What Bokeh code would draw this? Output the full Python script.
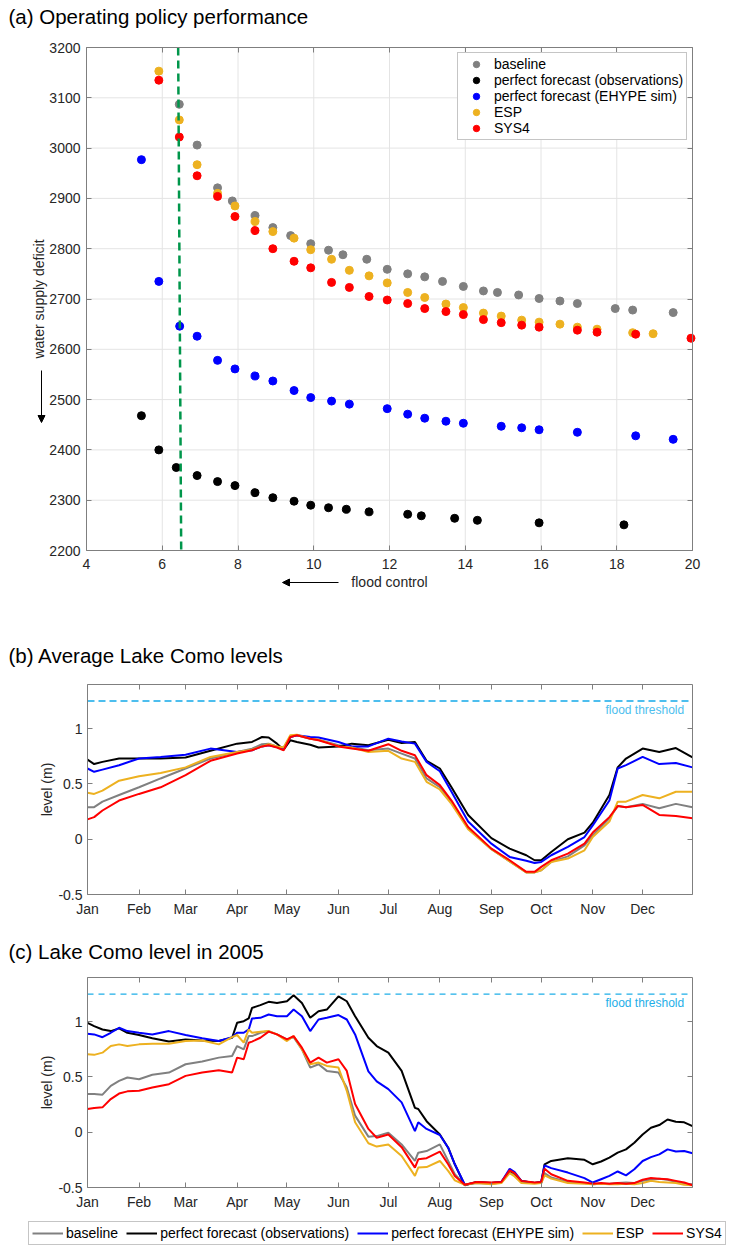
import math
from bokeh.plotting import figure
from bokeh.layouts import column
from bokeh.models import (FixedTicker, LinearAxis, Range1d, Label, Legend, LegendItem,
                          Arrow, NormalHead)
from bokeh.embed import file_html
from bokeh.resources import INLINE

FONT = "Liberation Sans"
TXT = "#262626"
AXC = "#7f7f7f"
W = 732

# ---------------- Panel (a) data ----------------
x_ticks_a = [4, 6, 8, 10, 12, 14, 16, 18, 20]
y_ticks_a = [2200, 2300, 2400, 2500, 2600, 2700, 2800, 2900, 3000, 3100, 3200]

base_x = [6.45, 6.92, 7.46, 7.85, 8.45, 8.92, 9.39, 9.92, 10.39, 10.77, 11.4, 11.94, 12.48,
          12.93, 13.4, 13.95, 14.48, 14.85, 15.41, 15.95, 16.5, 16.96, 17.96, 18.42, 19.49]
base_y = [3087, 3006, 2921, 2895, 2866, 2842, 2826, 2810, 2797, 2788, 2779, 2759, 2750,
          2744, 2735, 2725, 2716, 2713, 2708, 2701, 2696, 2691, 2681, 2678, 2673]

obs_x = [5.45, 5.91, 6.37, 6.92, 7.46, 7.92, 8.45, 8.92, 9.48, 9.92, 10.39, 10.86, 11.46,
         12.48, 12.84, 13.72, 14.32, 15.95, 18.19]
obs_y = [2468, 2400, 2365, 2349, 2337, 2329, 2315, 2305, 2298, 2290, 2285, 2282, 2277,
         2272, 2269, 2264, 2260, 2255, 2251]

ehype_x = [5.45, 5.91, 6.46, 6.92, 7.46, 7.92, 8.45, 8.92, 9.48, 9.92, 10.47, 10.94, 11.94,
           12.48, 12.93, 13.49, 13.95, 14.95, 15.49, 15.95, 16.96, 18.5, 19.49]
ehype_y = [2977, 2735, 2646, 2626, 2578, 2561, 2547, 2537, 2518, 2504, 2497, 2491, 2482,
           2471, 2463, 2457, 2453, 2447, 2444, 2440, 2435, 2428, 2421]

esp_x = [5.91, 6.45, 6.92, 7.46, 7.92, 8.45, 8.92, 9.48, 9.92, 10.47, 10.94, 11.46, 11.94,
         12.48, 12.93, 13.49, 13.95, 14.48, 14.95, 15.49, 15.95, 16.5, 16.96, 17.48, 18.42, 18.96]
esp_y = [3153, 3056, 2967, 2910, 2885, 2854, 2834, 2821, 2798, 2779, 2757, 2746, 2732,
         2713, 2703, 2690, 2683, 2672, 2666, 2658, 2654, 2650, 2644, 2640, 2633, 2631]

sys4_x = [5.91, 6.45, 6.92, 7.46, 7.92, 8.45, 8.92, 9.48, 9.92, 10.47, 10.94, 11.46, 11.94,
          12.48, 12.93, 13.49, 13.95, 14.48, 14.95, 15.49, 15.95, 16.96, 17.48, 18.5, 19.96]
sys4_y = [3135, 3022, 2945, 2904, 2864, 2836, 2800, 2775, 2762, 2733, 2723, 2705, 2698,
          2691, 2681, 2675, 2669, 2659, 2653, 2648, 2644, 2638, 2634, 2630, 2622]

policy_x = [6.42, 6.50]
policy_y = [3200, 2200]

# ---------------- Panels (b), (c) data ----------------
month_ticks = [1, 32, 60, 91, 121, 152, 182, 213, 244, 274, 305, 335]
month_labels = ["Jan", "Feb", "Mar", "Apr", "May", "Jun", "Jul", "Aug", "Sep", "Oct", "Nov", "Dec"]
year_days = [1, 365]
level_ticks = [-0.5, 0, 0.5, 1]
level_labels = ["-0.5", "0", "0.5", "1"]
level_lims = [-0.5, 1.4]
FLOOD_THRESHOLD = 1.25

days_b = [1, 5, 10, 20, 32, 45, 60, 75, 91, 100, 106, 110, 115, 119, 123, 127, 135, 140, 152, 160,
          170, 182, 190, 198, 205, 213, 220, 230, 244, 255, 265, 270, 274, 280, 290, 300, 305, 315,
          320, 325, 335, 345, 355, 365]
obs_b = [0.72, 0.68, 0.70, 0.73, 0.73, 0.73, 0.74, 0.80, 0.865, 0.88, 0.925, 0.92, 0.865, 0.81,
         0.895, 0.88, 0.855, 0.83, 0.84, 0.865, 0.85, 0.90, 0.87, 0.88, 0.71, 0.64, 0.47, 0.22,
         0.01, -0.085, -0.145, -0.19, -0.19, -0.115, 0.0, 0.06, 0.15, 0.40, 0.65, 0.73, 0.82,
         0.79, 0.825, 0.74]
ehype_b = [0.64, 0.61, 0.63, 0.67, 0.73, 0.745, 0.765, 0.82, 0.79, 0.805, 0.84, 0.85, 0.835, 0.82,
           0.925, 0.94, 0.925, 0.92, 0.88, 0.84, 0.84, 0.91, 0.885, 0.865, 0.70, 0.615, 0.43, 0.16,
           -0.04, -0.16, -0.195, -0.215, -0.205, -0.145, -0.07, 0.02, 0.125, 0.35, 0.64, 0.67,
           0.745, 0.68, 0.69, 0.65]
sys4_b = [0.18, 0.20, 0.26, 0.35, 0.41, 0.47, 0.58, 0.71, 0.775, 0.805, 0.84, 0.85, 0.83, 0.805,
          0.925, 0.94, 0.91, 0.895, 0.84, 0.82, 0.80, 0.86, 0.80, 0.76, 0.58, 0.49, 0.35, 0.11,
          -0.085, -0.19, -0.295, -0.295, -0.25, -0.19, -0.13, -0.04, 0.06, 0.20, 0.30, 0.29,
          0.31, 0.22, 0.21, 0.19]
base_b = [0.29, 0.29, 0.34, 0.40, 0.47, 0.55, 0.64, 0.73, 0.79, 0.82, 0.86, 0.865, 0.84, 0.83,
          0.925, 0.94, 0.91, 0.90, 0.85, 0.835, 0.805, 0.82, 0.775, 0.73, 0.55, 0.47, 0.34, 0.10,
          -0.09, -0.20, -0.30, -0.30, -0.28, -0.205, -0.155, -0.055, 0.035, 0.19, 0.30, 0.29,
          0.32, 0.28, 0.32, 0.29]
esp_b = [0.42, 0.41, 0.44, 0.53, 0.57, 0.60, 0.65, 0.745, 0.79, 0.81, 0.84, 0.86, 0.84, 0.83,
         0.94, 0.945, 0.91, 0.90, 0.84, 0.83, 0.79, 0.80, 0.73, 0.70, 0.52, 0.45, 0.32, 0.09,
         -0.09, -0.20, -0.30, -0.30, -0.28, -0.205, -0.175, -0.10, 0.02, 0.16, 0.34, 0.34,
         0.40, 0.37, 0.43, 0.43]

days_c = [1, 5, 10, 15, 20, 25, 32, 40, 50, 60, 70, 80, 88, 91, 95, 98, 100, 105, 110, 115,
          121, 125, 130, 135, 140, 145, 152, 157, 162, 170, 175, 182, 190, 198, 200, 205, 213, 218,
          222, 228, 235, 244, 250, 255, 258, 262, 270, 274, 276, 280, 290, 300, 305, 310, 315, 320,
          325, 330, 335, 340, 345, 350, 355, 360, 365]
obs_c = [0.99, 0.96, 0.93, 0.915, 0.94, 0.90, 0.88, 0.85, 0.82, 0.84,
         0.83, 0.825, 0.855, 0.99, 1.005, 1.03, 1.125, 1.15, 1.18, 1.17,
         1.185, 1.24, 1.17, 1.035, 1.095, 1.11, 1.23, 1.185, 1.05, 0.855,
         0.78, 0.72, 0.555, 0.22, 0.21, 0.10, -0.02, -0.14, -0.29, -0.48,
         -0.45, -0.46, -0.45, -0.35, -0.37, -0.44, -0.46, -0.45, -0.29, -0.26,
         -0.235, -0.25, -0.29, -0.265, -0.23, -0.185, -0.155, -0.095, -0.02, 0.04,
         0.065, 0.115, 0.095, 0.09, 0.055]
ehype_c = [0.89, 0.885, 0.86, 0.90, 0.945, 0.915, 0.90, 0.885, 0.915, 0.88,
           0.85, 0.825, 0.86, 0.90, 0.90, 0.93, 1.03, 1.035, 1.065, 1.05,
           1.05, 1.11, 1.05, 0.915, 1.02, 1.035, 1.06, 1.02, 0.885, 0.55,
           0.46, 0.39, 0.27, 0.01, 0.09, 0.03, -0.025, -0.14, -0.29, -0.475,
           -0.455, -0.46, -0.45, -0.33, -0.36, -0.44, -0.46, -0.45, -0.30, -0.325,
           -0.365, -0.415, -0.455, -0.425, -0.395, -0.355, -0.39, -0.335, -0.26, -0.225,
           -0.20, -0.155, -0.175, -0.17, -0.19]
esp_c = [0.705, 0.70, 0.72, 0.78, 0.795, 0.78, 0.795, 0.80, 0.80, 0.825,
         0.83, 0.795, 0.86, 0.88, 0.81, 0.93, 0.90, 0.91, 0.915, 0.885,
         0.825, 0.87, 0.75, 0.615, 0.63, 0.60, 0.585, 0.375, 0.09, -0.10,
         -0.13, -0.11, -0.215, -0.395, -0.32, -0.315, -0.26, -0.35, -0.435, -0.475,
         -0.46, -0.47, -0.46, -0.37, -0.40, -0.46, -0.465, -0.46, -0.39, -0.42,
         -0.46, -0.465, -0.47, -0.465, -0.47, -0.47, -0.465, -0.47, -0.46, -0.44,
         -0.45, -0.455, -0.46, -0.475, -0.48]
base_c = [0.345, 0.345, 0.34, 0.42, 0.465, 0.495, 0.48, 0.52, 0.54, 0.615,
          0.64, 0.675, 0.69, 0.78, 0.75, 0.87, 0.87, 0.90, 0.915, 0.885,
          0.84, 0.86, 0.75, 0.585, 0.615, 0.555, 0.54, 0.405, 0.15, -0.04,
          -0.035, -0.005, -0.11, -0.26, -0.185, -0.17, -0.11, -0.26, -0.38, -0.475,
          -0.46, -0.465, -0.455, -0.36, -0.39, -0.45, -0.46, -0.46, -0.37, -0.41,
          -0.45, -0.46, -0.47, -0.465, -0.465, -0.46, -0.455, -0.46, -0.44, -0.43,
          -0.42, -0.43, -0.45, -0.465, -0.47]
sys4_c = [0.21, 0.22, 0.225, 0.30, 0.35, 0.37, 0.375, 0.405, 0.435, 0.51,
          0.54, 0.56, 0.54, 0.675, 0.66, 0.81, 0.82, 0.855, 0.91, 0.885,
          0.84, 0.87, 0.765, 0.63, 0.675, 0.63, 0.66, 0.555, 0.255, 0.03,
          -0.05, -0.02, -0.135, -0.32, -0.245, -0.235, -0.175, -0.29, -0.395, -0.475,
          -0.45, -0.455, -0.45, -0.345, -0.37, -0.44, -0.455, -0.45, -0.33, -0.38,
          -0.44, -0.455, -0.465, -0.46, -0.465, -0.46, -0.465, -0.46, -0.43, -0.415,
          -0.42, -0.425, -0.44, -0.455, -0.48]

series_names = ["baseline", "perfect forecast (observations)", "perfect forecast (EHYPE sim)", "ESP", "SYS4"]
series_colors = ["#808080", "#000000", "#0000ff", "#edb120", "#ff0000"]


def frame_ranges(box, lims, w, h):
    """box = (left, top, right, bottom) pixel position of the axes box inside the canvas."""
    l, t, r, b = box
    x0, x1, y0, y1 = lims
    sx = (x1 - x0) / (r - l)
    sy = (y1 - y0) / (b - t)
    return (Range1d(x0 - l * sx, x1 + (w - r) * sx),
            Range1d(y0 - (h - b) * sy, y1 + t * sy))


def make_fig(h, box, lims):
    xr, yr = frame_ranges(box, lims, W, h)
    p = figure(width=W, height=h, x_range=xr, y_range=yr, output_backend="svg",
               toolbar_location=None, title=None, min_border=0)
    p.outline_line_color = None
    p.background_fill_color = "white"
    p.border_fill_color = "white"
    p.xgrid.visible = False
    p.ygrid.visible = False
    return p


def style_axis(ax, ticks, loc, bounds, overrides=None, labels=True, standoff=6):
    ax.fixed_location = loc
    ax.bounds = bounds
    ax.ticker = FixedTicker(ticks=ticks)
    ax.major_tick_in = 5
    ax.major_tick_out = 0
    ax.minor_tick_line_color = None
    ax.axis_line_color = AXC
    ax.major_tick_line_color = AXC
    ax.major_label_text_font = FONT
    ax.major_label_text_color = TXT
    ax.major_label_text_font_size = "14px"
    ax.major_label_standoff = standoff
    ax.axis_label_text_font = FONT
    ax.axis_label_text_font_size = "14px"
    ax.axis_label_text_font_style = "normal"
    ax.axis_label_text_color = TXT
    ax.axis_label_standoff = 0
    if overrides:
        ax.major_label_overrides = overrides
    if not labels:
        ax.major_label_text_font_size = "0px"
        ax.major_label_text_alpha = 0
        ax.major_label_standoff = 0


def setup_axes(p, lims, xticks, yticks, xover=None, yover=None, xstand=6, ystand=6):
    x0, x1, y0, y1 = lims
    style_axis(p.xaxis[0], xticks, y0, (x0, x1), xover, standoff=xstand)
    style_axis(p.yaxis[0], yticks, x0, (y0, y1), yover, standoff=ystand)
    top = LinearAxis()
    style_axis(top, xticks, y1, (x0, x1), labels=False)
    p.add_layout(top, "above")
    right = LinearAxis()
    style_axis(right, yticks, x1, (y0, y1), labels=False)
    p.add_layout(right, "right")


def screen_text(p, text, x, y, size="14px", align="left", color="#000000"):
    p.add_layout(Label(x=x, y=y, x_units="screen", y_units="screen", text=text,
                       text_font=FONT, text_font_size=size, text_color=color,
                       text_baseline="middle", text_align=align))


# ---------------- Figure (a) ----------------
HA = 600
lims_a = (x_ticks_a[0], x_ticks_a[-1], y_ticks_a[0], y_ticks_a[-1])
pa = make_fig(HA, (86, 47, 692, 550), lims_a)
setup_axes(pa, lims_a, x_ticks_a, y_ticks_a, xstand=8, ystand=6)
pa.yaxis[0].axis_label = "water supply deficit"
pa.yaxis[0].axis_label_standoff = -1

# grid lines at the inner ticks
gx = x_ticks_a[1:-1]
gy = y_ticks_a[1:-1]
pa.segment(x0=gx, y0=[lims_a[2]] * len(gx), x1=gx, y1=[lims_a[3]] * len(gx),
           line_color="#e4e4e4", line_width=1)
pa.segment(x0=[lims_a[0]] * len(gy), y0=gy, x1=[lims_a[1]] * len(gy), y1=gy,
           line_color="#e4e4e4", line_width=1)

pts = [(base_x, base_y), (obs_x, obs_y), (ehype_x, ehype_y), (esp_x, esp_y), (sys4_x, sys4_y)]
items_a = []
for (xs, ys), name, col in zip(pts, series_names, series_colors):
    r = pa.scatter(xs, ys, size=8, fill_color=col, line_color=col)
    items_a.append(LegendItem(label=name, renderers=[r]))

pa.line(policy_x, policy_y, line_color="#00964b", line_width=2.5, line_dash="8 5")

leg = Legend(items=items_a, location=(457, HA - 140), padding=3, spacing=0,
             label_height=16, glyph_height=16, glyph_width=30, label_standoff=3,
             label_text_font=FONT, label_text_font_size="14px", label_text_color="#000000",
             border_line_color="#8c8c8c", background_fill_alpha=1)
pa.add_layout(leg)

pa.add_layout(Arrow(end=NormalHead(size=7, fill_color="black", line_color="black"),
                    x_start=41, y_start=HA - 370, x_end=41, y_end=HA - 422,
                    start_units="screen", end_units="screen", line_color="black", line_width=1))
pa.add_layout(Arrow(end=NormalHead(size=7, fill_color="black", line_color="black"),
                    x_start=338, y_start=HA - 582, x_end=282, y_end=HA - 582,
                    start_units="screen", end_units="screen", line_color="black", line_width=1))
screen_text(pa, "flood control", 389, HA - 581, color=TXT, align="center")
screen_text(pa, "(a) Operating policy performance", 8, HA - 16, size="20.5px")

# ---------------- Figures (b), (c) ----------------
month_over = {t: l for t, l in zip(month_ticks, month_labels)}
level_over = {t: l for t, l in zip(level_ticks, level_labels)}
lims_l = (year_days[0], year_days[1], level_lims[0], level_lims[1])


def level_fig(h, box, days, series, title, title_cy, thr_color, thr_width, thr_dash):
    p = make_fig(h, box, lims_l)
    setup_axes(p, lims_l, month_ticks, level_ticks, month_over, level_over, xstand=6, ystand=5)
    p.yaxis[0].axis_label = "level (m)"
    p.line(year_days, [FLOOD_THRESHOLD] * len(year_days), line_color=thr_color,
           line_width=thr_width, line_dash=thr_dash)
    p.add_layout(Label(x=360, y=1.172, text="flood threshold", text_font=FONT,
                       text_font_size="12px", text_color=thr_color, text_align="right",
                       text_baseline="middle"))
    rs = []
    for ys, col in zip(series, series_colors):
        rs.append(p.line(days, ys, line_color=col, line_width=2))
    screen_text(p, title, 8, h - title_cy, size="20.5px")
    return p, rs


HB = 320
pb, _ = level_fig(HB, (87, 84, 692, 294), days_b, [base_b, obs_b, ehype_b, esp_b, sys4_b],
                  "(b) Average Lake Como levels", 55, "#4dbeee", 2, "7 4")
HC = 326
pc, rc = level_fig(HC, (87, 57, 692, 267), days_c, [base_c, obs_c, ehype_c, esp_c, sys4_c],
                   "(c) Lake Como level in 2005", 31, "#1eaee8", 1.3, "6 5")

items_c = [LegendItem(label=n, renderers=[r]) for n, r in zip(series_names, rc)]
bleg = Legend(items=items_c, orientation="horizontal", location=(28, 1),
              glyph_width=31, glyph_height=14, label_height=14, label_standoff=3,
              spacing=8, padding=3,
              label_text_font=FONT, label_text_font_size="14px", label_text_color="#000000",
              border_line_color="#8c8c8c", background_fill_alpha=1)
pc.add_layout(bleg)

layout = column(pa, pb, pc, spacing=0)
open("out.html", "w").write(file_html(layout, INLINE))
